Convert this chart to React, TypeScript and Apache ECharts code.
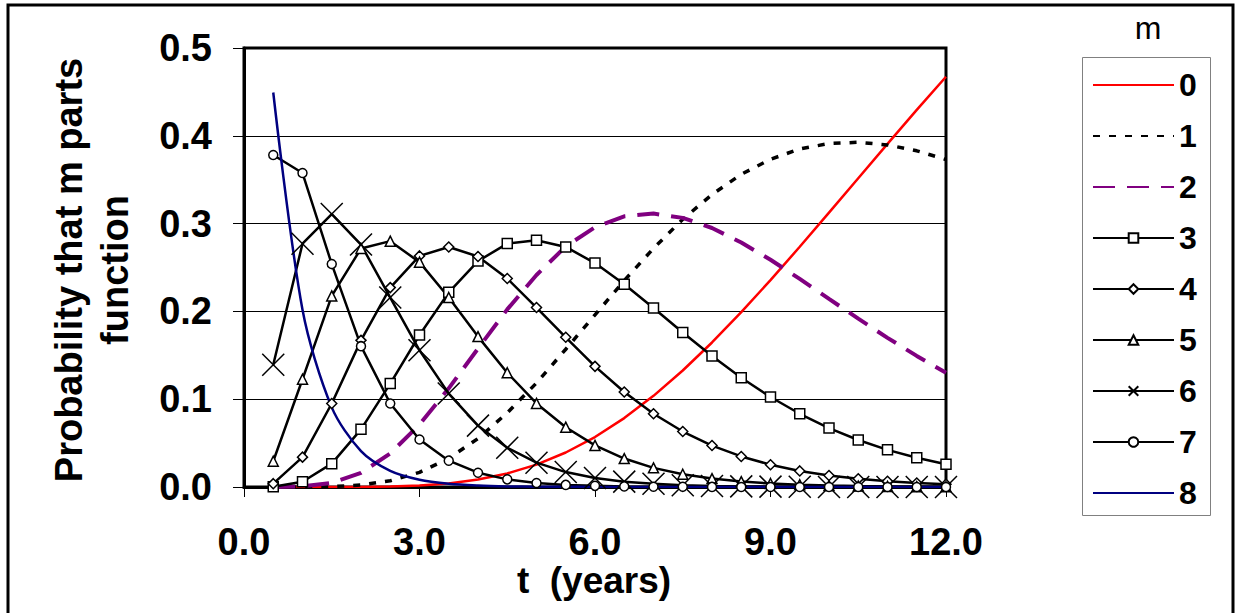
import React, { useEffect, useRef } from "react";
import * as echarts from "echarts";

const tValues = [0.5, 1.0, 1.5, 2.0, 2.5, 3.0, 3.5, 4.0, 4.5, 5.0, 5.5, 6.0, 6.5, 7.0, 7.5, 8.0, 8.5, 9.0, 9.5, 10.0, 10.5, 11.0, 11.5, 12.0];

const m0 = [0.00000001, 0.0000012, 0.00002, 0.00014, 0.00058, 0.0017, 0.0041, 0.0085, 0.0154, 0.0255, 0.0393, 0.0569, 0.0785, 0.1038, 0.1327, 0.1646, 0.1991, 0.2356, 0.2736, 0.3125, 0.3517, 0.3908, 0.4295, 0.4673];
const m1 = [0.0000005, 0.00004, 0.00047, 0.0023, 0.0071, 0.0167, 0.0326, 0.0552, 0.0844, 0.1185, 0.1569, 0.1961, 0.2351, 0.2718, 0.3049, 0.3331, 0.3561, 0.3733, 0.385, 0.3912, 0.3926, 0.3896, 0.3829, 0.373];
const m2 = [0.000017, 0.00067, 0.0047, 0.0162, 0.0382, 0.0711, 0.1124, 0.1577, 0.2023, 0.2414, 0.274, 0.2958, 0.3083, 0.3114, 0.3065, 0.295, 0.2785, 0.2588, 0.237, 0.2143, 0.1917, 0.1699, 0.1493, 0.1302];
const m3 = [0.00032, 0.006, 0.0266, 0.0657, 0.1178, 0.1731, 0.2217, 0.2573, 0.2772, 0.281, 0.2734, 0.255, 0.231, 0.2038, 0.176, 0.1492, 0.1245, 0.1025, 0.0834, 0.0671, 0.0535, 0.0423, 0.0333, 0.026];
const m4 = [0.0038, 0.034, 0.0951, 0.167, 0.2271, 0.2632, 0.2734, 0.2625, 0.2374, 0.2044, 0.1705, 0.1374, 0.1082, 0.0834, 0.0632, 0.0472, 0.0348, 0.0254, 0.0183, 0.0131, 0.0093, 0.0066, 0.0046, 0.0032];
const m5 = [0.0293, 0.1227, 0.2176, 0.2716, 0.28, 0.2561, 0.2158, 0.1713, 0.1301, 0.0952, 0.0681, 0.0474, 0.0324, 0.0218, 0.0145, 0.0096, 0.0062, 0.004, 0.0026, 0.0016, 0.001, 0.0007, 0.0004, 0.0003];
const m6 = [0.1392, 0.2771, 0.3109, 0.2761, 0.2158, 0.1557, 0.1064, 0.0699, 0.0446, 0.0277, 0.017, 0.0102, 0.0061, 0.0036, 0.0021, 0.0012, 0.0007, 0.0004, 0.0002, 0.0001, 0.00007, 0.00004, 0.00002, 0.00001];
const m7 = [0.3781, 0.3576, 0.2539, 0.1604, 0.0951, 0.0541, 0.03, 0.0163, 0.0087, 0.0046, 0.0024, 0.0013, 0.0007, 0.0003, 0.0002, 0.0001, 0.00004, 0.00002, 0.00001, 0.00001, 0, 0, 0, 0];
const m8 = [0.4493, 0.2019, 0.0907, 0.0408, 0.0183, 0.0082, 0.0037, 0.0017, 0.0007, 0.0003, 0.0002, 0.0001, 0.00003, 0.00001, 0.00001, 0, 0, 0, 0, 0, 0, 0, 0, 0];

const seriesNames = ["0", "1", "2", "3", "4", "5", "6", "7", "8"];
const noMarkerNames = ["0", "1", "2", "8"];
const xTickLabels = ["0.0", "3.0", "6.0", "9.0", "12.0"];
const yTitle = "Probability that m parts\nfunction";
const xTitle = "t  (years)";
const legendTitle = "m";

const FONT = "'Liberation Sans', Arial, sans-serif";
const CROSS = "path://M0,0L20,20M20,0L0,20";

function pairs(vals: number[]) {
  return tValues.map((t, i) => [t, vals[i]]);
}

export default function App() {
  const ref = useRef<HTMLDivElement>(null);
  useEffect(() => {
    if (!ref.current) return;
    const chart = echarts.init(ref.current, null, { renderer: "svg" });
    const markerLine = (name: string, vals: number[], symbol: string, size: number, bw = 1.5) => ({
      name,
      type: "line",
      data: pairs(vals),
      symbol,
      symbolSize: size,
      showAllSymbol: true,
      lineStyle: { color: "#000", width: 2.5 },
      itemStyle: { color: symbol === CROSS ? "none" : "#fff", borderColor: "#000", borderWidth: bw },
      emphasis: { disabled: true },
    });
    const legendData = seriesNames.map((n) =>
      noMarkerNames.includes(n) ? { name: n, itemStyle: { opacity: 0 } } : { name: n }
    );
    const option: any = {
      animation: false,
      backgroundColor: "#fff",
      textStyle: { fontFamily: FONT },
      grid: {
        left: 244,
        top: 48,
        right: 290,
        bottom: 126,
        show: true,
        borderColor: "#000",
        borderWidth: 3,
        backgroundColor: "#fff",
      },
      xAxis: {
        type: "value",
        min: 0,
        max: 12,
        interval: 3,
        axisLine: { show: true, lineStyle: { color: "#000", width: 3 } },
        axisTick: { show: true, length: 10, lineStyle: { color: "#000", width: 1 } },
        splitLine: { show: false },
        axisLabel: {
          color: "#000",
          fontFamily: FONT,
          fontSize: 38,
          fontWeight: "bold",
          margin: 36,
          formatter: (v: number) => xTickLabels[Math.round(v / 3)] ?? v.toFixed(1),
        },
      },
      yAxis: {
        type: "value",
        min: 0,
        max: 0.5,
        interval: 0.1,
        axisLine: { show: true, lineStyle: { color: "#000", width: 3 } },
        axisTick: { show: true, length: 11, lineStyle: { color: "#000", width: 1 } },
        splitLine: { show: true, lineStyle: { color: "#000", width: 1 } },
        axisLabel: {
          color: "#000",
          fontFamily: FONT,
          fontSize: 38,
          fontWeight: "bold",
          margin: 32,
          formatter: (v: number) => v.toFixed(1),
        },
      },
      legend: {
        orient: "vertical",
        left: 1092,
        top: 67,
        itemWidth: 81,
        itemHeight: 12,
        itemGap: 15,
        padding: 0,
        data: legendData,
        textStyle: { color: "#000", fontFamily: FONT, fontSize: 32, fontWeight: "bold", lineHeight: 36 },
        selectedMode: false,
      },
      graphic: [
        {
          type: "rect",
          shape: { x: 8, y: 5, width: 1225, height: 660 },
          style: { fill: "none", stroke: "#000", lineWidth: 3 },
          silent: true,
        },
        {
          type: "rect",
          shape: { x: 1082.5, y: 57.5, width: 128, height: 458 },
          style: { fill: "none", stroke: "#808080", lineWidth: 1 },
          silent: true,
        },
        {
          type: "text",
          x: 1148,
          y: 28,
          style: { text: legendTitle, fontSize: 32, fontFamily: FONT, fill: "#000", align: "center", verticalAlign: "middle" },
        },
        {
          type: "text",
          x: 92,
          y: 270,
          rotation: Math.PI / 2,
          style: {
            text: yTitle,
            fontSize: 38,
            fontWeight: "bold",
            fontFamily: FONT,
            fill: "#000",
            align: "center",
            verticalAlign: "middle",
            lineHeight: 46,
          },
        },
        {
          type: "text",
          x: 594,
          y: 580,
          style: { text: xTitle, fontSize: 37, fontWeight: "bold", fontFamily: FONT, fill: "#000", align: "center", verticalAlign: "middle" },
        },
      ],
      series: [
        {
          name: "0",
          type: "line",
          data: pairs(m0),
          symbol: "none",
          lineStyle: { color: "#ff0000", width: 2.5 },
          itemStyle: { color: "#ff0000" },
          emphasis: { disabled: true },
        },
        {
          name: "1",
          type: "line",
          data: pairs(m1),
          symbol: "none",
          lineStyle: { color: "#000", width: 3.5, type: [7, 9] },
          itemStyle: { color: "#000" },
          emphasis: { disabled: true },
        },
        {
          name: "2",
          type: "line",
          data: pairs(m2),
          symbol: "none",
          lineStyle: { color: "#800080", width: 4, type: [22, 12] },
          itemStyle: { color: "#800080" },
          emphasis: { disabled: true },
        },
        markerLine("3", m3, "rect", 10),
        markerLine("4", m4, "diamond", 10),
        markerLine("5", m5, "triangle", 10),
        markerLine("6", m6, CROSS, 22, 1.5),
        markerLine("7", m7, "circle", 9),
        {
          name: "8",
          type: "line",
          data: pairs(m8),
          symbol: "none",
          smooth: 0.3,
          lineStyle: { color: "#000080", width: 2.5 },
          itemStyle: { color: "#000080" },
          emphasis: { disabled: true },
        },
      ],
    };
    chart.setOption(option);
    return () => chart.dispose();
  }, []);
  return <div ref={ref} style={{ position: "fixed", left: 0, top: 0, width: 1236, height: 613 }} />;
}
